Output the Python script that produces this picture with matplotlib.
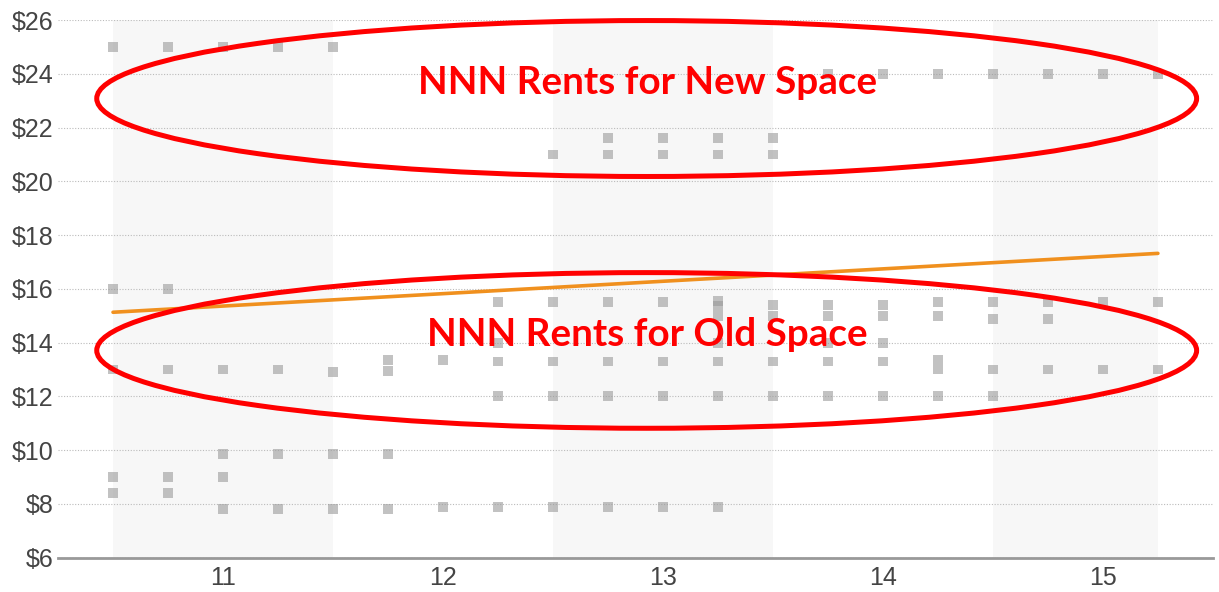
import matplotlib
matplotlib.use("Agg")
import matplotlib.pyplot as plt
from matplotlib.patches import Ellipse

# quarters (fractional year, 2-digit) and the asking rents observed in each
quarters = [10.5, 10.75, 11.0, 11.25, 11.5, 11.75, 12.0, 12.25, 12.5, 12.75,
            13.0, 13.25, 13.5, 13.75, 14.0, 14.25, 14.5, 14.75, 15.0, 15.25]
rents = [
    [25, 16, 13, 9.0, 8.4],
    [25, 16, 13, 9.0, 8.4],
    [25, 13, 9.85, 9.0, 7.8],
    [25, 13, 9.85, 7.8],
    [25, 12.9, 9.85, 7.8],
    [13.35, 12.95, 9.85, 7.8],
    [13.35, 7.9],
    [15.5, 14.0, 13.3, 12.0, 7.9],
    [21.0, 15.5, 13.3, 12.0, 7.9],
    [21.6, 21.0, 15.5, 13.3, 12.0, 7.9],
    [21.6, 21.0, 15.5, 13.3, 12.0, 7.9],
    [21.6, 21.0, 15.55, 15.35, 15.0, 14.0, 13.3, 12.0, 7.9],
    [21.6, 21.0, 15.4, 15.0, 13.3, 12.0],
    [24, 15.4, 15.0, 14.0, 13.3, 12.0],
    [24, 15.4, 15.0, 14.0, 13.3, 12.0],
    [24, 15.5, 15.0, 13.35, 13.0, 12.0],
    [24, 15.5, 14.87, 13.0, 12.0],
    [24, 15.5, 14.87, 13.0],
    [24, 15.5, 13.0],
    [24, 15.5, 13.0],
]
trend_x = [10.5, 15.25]
trend_y = [15.13, 17.32]
year_ticks = [11, 12, 13, 14, 15]
year_labels = ["11", "12", "13", "14", "15"]
shaded_years = [(10.5, 11.5), (12.5, 13.5), (14.5, 15.25)]
y_ticks = [6, 8, 10, 12, 14, 16, 18, 20, 22, 24, 26]

xs, ys = [], []
for q, vals in zip(quarters, rents):
    for v in vals:
        xs.append(q)
        ys.append(v)

fig = plt.figure(figsize=(12.19, 5.92), dpi=100)
ax = fig.add_axes([0.0476, 0.0579, 0.9474, 0.9083])
ax.set_xlim(10.25, 15.5)
ax.set_ylim(6, 26)

for a, b in shaded_years:
    ax.axvspan(a, b, color="#f7f7f7", zorder=0, lw=0)

ax.set_yticks(y_ticks)
ax.set_yticklabels(["$%d" % t for t in y_ticks])
ax.set_xticks(year_ticks)
ax.set_xticklabels(year_labels)
ax.grid(axis="y", color="#bbbbbb", linestyle=(0, (1, 1.5)), linewidth=0.8, zorder=1)
ax.set_axisbelow(True)
ax.tick_params(length=0, labelsize=18, colors="#444444", pad=3.5)
ax.tick_params(axis="x", pad=6)
for lbl in ax.get_xticklabels() + ax.get_yticklabels():
    lbl.set_family("Liberation Sans")
for s in ["left", "right", "top"]:
    ax.spines[s].set_visible(False)
ax.spines["bottom"].set_color("#999999")
ax.spines["bottom"].set_linewidth(2)

ax.scatter(xs, ys, marker="s", s=50, color="#9a9a9a", alpha=0.6,
           edgecolors="none", zorder=3)
ax.plot(trend_x, trend_y, color="#f0901e", lw=2.6, zorder=4,
        solid_capstyle="round")

# hand-drawn style callouts
for cy, h in [(23.08, 5.8), (13.71, 5.79)]:
    ax.add_patch(Ellipse((12.926, cy), 5.0, h, fill=False, edgecolor="red",
                         lw=3.6, zorder=5, clip_on=False))
ax.text(12.93, 23.66, "NNN Rents for New Space", color="red", fontsize=27.8,
        fontweight="bold", family="Lato", ha="center", va="center", zorder=6)
ax.text(12.93, 14.32, "NNN Rents for Old Space", color="red", fontsize=27.8,
        fontweight="bold", family="Lato", ha="center", va="center", zorder=6)

fig.savefig("out.png", dpi=100)
